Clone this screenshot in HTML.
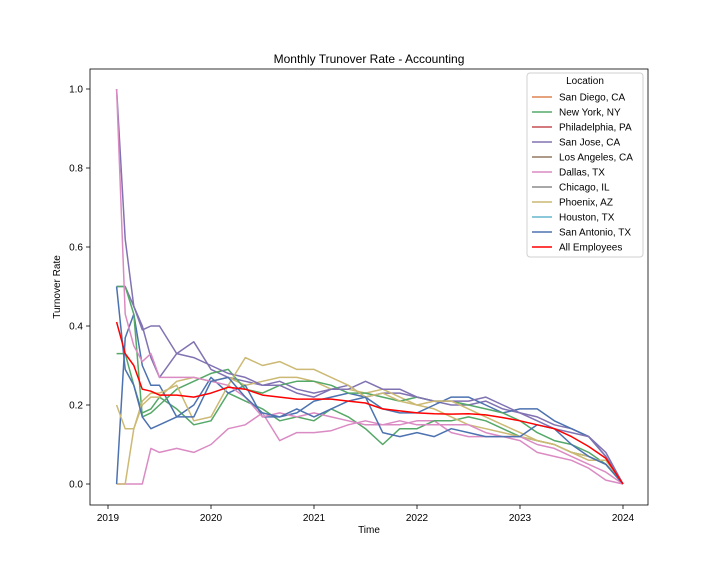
<!DOCTYPE html>
<html><head><meta charset="utf-8">
<style>body{margin:0;background:#fff}svg{display:block;font-family:"Liberation Sans","DejaVu Sans",sans-serif}</style>
</head><body>
<svg id="chart" width="720" height="576" viewBox="0 0 720 576" xmlns="http://www.w3.org/2000/svg">
<rect width="720" height="576" fill="#fff"/>
<text x="369" y="63" text-anchor="middle" font-size="12">Monthly Trunover Rate - Accounting</text>
<g id="plot"></g>
<rect x="90" y="69" width="558" height="436" fill="none" stroke="#000" stroke-width="0.8"/>
<text x="369" y="533" text-anchor="middle" font-size="10">Time</text>
<text transform="translate(60,287) rotate(-90)" text-anchor="middle" font-size="10">Turnover Rate</text>
<g id="axes"></g>
<g id="legend"></g>
</svg>
<script>
const months = [1,2,3,4,5,6,8,10,12,14,16,18,20,22,24,26,28,30,32,34,36,38,40,42,44,46,48,50,52,54,56,58,60];
const xTicks = [2019,2020,2021,2022,2023,2024];
const yTicks = [0,0.2,0.4,0.6,0.8,1.0];
const locations = ["San Diego, CA","New York, NY","Philadelphia, PA","San Jose, CA","Los Angeles, CA","Dallas, TX","Chicago, IL","Phoenix, AZ","Houston, TX","San Antonio, TX","All Employees"];
const legendColors = ["#dd8452","#55a868","#c44e52","#8172b2","#937860","#da8bc3","#8c8c8c","#ccb974","#64b5cd","#4c72b0","#ff0000"];
const sanDiego = [0.33,0.33,0.25,0.18,0.19,0.22,0.19,0.15,0.16,0.23,0.21,0.19,0.16,0.17,0.16,0.19,0.17,0.14,0.10,0.14,0.14,0.16,0.16,0.17,0.16,0.14,0.12,0.11,0.10,0.08,0.07,0.05,0];
const newYork = [0.5,0.5,0.43,0.17,0.18,0.20,0.24,0.26,0.28,0.29,0.24,0.23,0.25,0.26,0.26,0.25,0.23,0.23,0.22,0.21,0.22,0.21,0.21,0.20,0.19,0.18,0.16,0.13,0.11,0.10,0.08,0.05,0];
const philadelphia = [0,0,0.14,0.20,0.22,0.22,0.26,0.27,0.26,0.27,0.25,0.26,0.27,0.27,0.26,0.24,0.24,0.23,0.24,0.22,0.20,0.19,0.17,0.15,0.14,0.13,0.12,0.11,0.10,0.08,0.07,0.05,0];
const sanJose = [1.0,0.62,0.45,0.39,0.40,0.40,0.33,0.32,0.30,0.28,0.27,0.25,0.25,0.23,0.22,0.24,0.24,0.26,0.24,0.24,0.22,0.21,0.21,0.21,0.22,0.20,0.18,0.16,0.14,0.13,0.12,0.07,0];
const losAngeles = [0,0,0,0,0.09,0.08,0.09,0.08,0.10,0.14,0.15,0.18,0.11,0.13,0.13,0.135,0.15,0.16,0.15,0.15,0.16,0.16,0.13,0.12,0.12,0.12,0.11,0.08,0.07,0.06,0.04,0.01,0];
const dallas = [1.0,0.43,0.35,0.31,0.33,0.27,0.27,0.27,0.26,0.25,0.22,0.17,0.18,0.17,0.18,0.17,0.16,0.15,0.15,0.16,0.15,0.15,0.15,0.15,0.13,0.12,0.12,0.10,0.09,0.07,0.05,0.03,0];
const chicago = [0.5,0.5,0.45,0.40,0.32,0.27,0.33,0.36,0.29,0.27,0.26,0.25,0.26,0.24,0.23,0.24,0.25,0.22,0.23,0.23,0.22,0.21,0.20,0.20,0.21,0.19,0.18,0.17,0.15,0.14,0.12,0.08,0];
const phoenix = [0.2,0.14,0.14,0.21,0.23,0.23,0.25,0.16,0.17,0.25,0.32,0.30,0.31,0.29,0.29,0.27,0.25,0.22,0.23,0.21,0.20,0.21,0.21,0.19,0.17,0.15,0.13,0.11,0.10,0.08,0.06,0.06,0];
const houston = [0,0.37,0.43,0.30,0.25,0.25,0.17,0.20,0.27,0.23,0.25,0.17,0.17,0.18,0.21,0.22,0.23,0.22,0.19,0.18,0.18,0.20,0.22,0.22,0.20,0.18,0.19,0.19,0.16,0.14,0.12,0.07,0];
const sanAntonio = [0.5,0.29,0.25,0.17,0.14,0.15,0.17,0.17,0.26,0.27,0.22,0.18,0.17,0.19,0.17,0.19,0.21,0.22,0.13,0.12,0.13,0.12,0.14,0.13,0.12,0.12,0.12,0.15,0.14,0.10,0.07,0.05,0];
const allEmployees = [0.41,0.33,0.30,0.24,0.235,0.225,0.225,0.22,0.23,0.245,0.24,0.225,0.22,0.215,0.215,0.215,0.21,0.205,0.19,0.185,0.18,0.178,0.177,0.178,0.175,0.168,0.16,0.15,0.14,0.12,0.095,0.065,0];

const NS="http://www.w3.org/2000/svg";
const xs = y => 108 + (y-2019)*103;
const xm = m => xs(2019 + m/12);
const ys = v => 484 - v*395;
const plot=document.getElementById('plot'), axes=document.getElementById('axes'), legend=document.getElementById('legend');
function mk(tag,attrs,parent){const e=document.createElementNS(NS,tag);for(const k in attrs)e.setAttribute(k,attrs[k]);parent.appendChild(e);return e;}

const seriesList=[
 {d:losAngeles,c:"#da8bc3",n:"line-los-angeles"},
 {d:sanDiego,c:"#55a868",n:"line-san-diego"},
 {d:chicago,c:"#8172b2",n:"line-chicago"},
 {d:philadelphia,c:"#ccb974",n:"line-philadelphia"},
 {d:houston,c:"#4c72b0",n:"line-houston"},
 {d:newYork,c:"#55a868",n:"line-new-york"},
 {d:sanJose,c:"#8172b2",n:"line-san-jose"},
 {d:dallas,c:"#da8bc3",n:"line-dallas"},
 {d:phoenix,c:"#ccb974",n:"line-phoenix"},
 {d:sanAntonio,c:"#4c72b0",n:"line-san-antonio"},
 {d:allEmployees,c:"#ff0000",n:"line-all-employees"}
];
seriesList.forEach(s=>{
 const pts=s.d.map((v,i)=>xm(months[i]).toFixed(1)+","+ys(v).toFixed(1)).join(" ");
 const p=mk('polyline',{points:pts,fill:"none",stroke:s.c,"stroke-width":1.5,"stroke-linejoin":"round"},plot);
 
 
});
xTicks.forEach(t=>{
 const x=xs(t);
 const l=mk('line',{x1:x,x2:x,y1:505,y2:509,stroke:"#000","stroke-width":0.8},axes);
 
 
 const tx=mk('text',{x:x,y:521,"text-anchor":"middle","font-size":10},axes);tx.textContent=t;
 
 
});
yTicks.forEach(t=>{
 const y=ys(t);
 const l=mk('line',{x1:86,x2:90,y1:y,y2:y,stroke:"#000","stroke-width":0.8},axes);
 
 
 const tx=mk('text',{x:83,y:y+3.5,"text-anchor":"end","font-size":10},axes);tx.textContent=t.toFixed(1);
 
 
});
const lb=mk('rect',{x:527,y:73,width:116,height:184,rx:3,fill:"#fff",stroke:"#ccc","stroke-width":1,opacity:0.9},legend);


const lt=mk('text',{x:585,y:84,"text-anchor":"middle","font-size":10},legend);lt.textContent="Location";


locations.forEach((name,i)=>{
 const y=97+i*15;
 const g=mk('g',{},legend);
 
 
 mk('line',{x1:532,x2:552,y1:y,y2:y,stroke:legendColors[i],"stroke-width":1.5},g);
 const t=mk('text',{x:559,y:y+3.5,"font-size":10},g);t.textContent=name;
});
</script>
</body></html>
